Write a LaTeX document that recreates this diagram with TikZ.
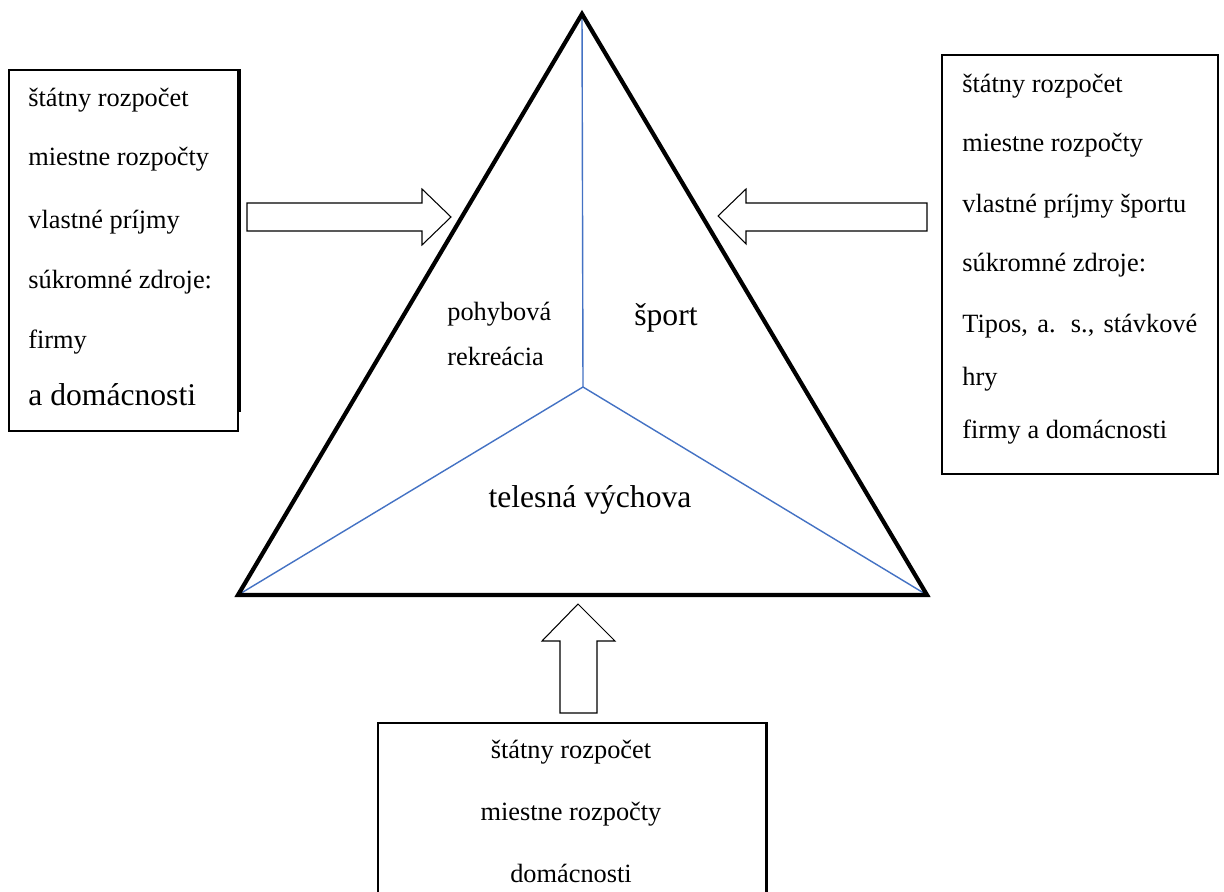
\documentclass[tikz,border=0pt]{standalone}
\usepackage{fontspec}
\setmainfont{Liberation Serif}
\usepackage{tikz}
\usepackage{xcolor}
\usetikzlibrary{positioning}
\usetikzlibrary{calc}

\definecolor{wordblue}{RGB}{68,114,196}

\begin{document}
\begin{tikzpicture}[x=0.02cm, y=-0.02cm,
  txt/.style={font=\fontsize{15}{18}\selectfont, inner sep=0pt},
  bigtxt/.style={font=\fontsize{18}{22}\selectfont, inner sep=0pt},
  thinframe/.style={draw=black, line width=0.6pt},
  thickframe/.style={draw=black, line width=1.2pt},
  blockarrow/.style={draw=black, line width=0.6pt, fill=white, line join=miter},
  splitline/.style={draw=wordblue, line width=0.8pt}]
\clip (0,0) rectangle (1224,892);
\fill[white] (0,0) rectangle (1224,892);

% triangle
\coordinate (apex) at (582,14);
\coordinate (bl) at (238,595);
\coordinate (br) at (927,595);
\coordinate (mid) at (583,387);
\draw [splitline] (mid) -- (apex);
\draw [splitline] (mid) -- (bl);
\draw [splitline] (mid) -- (br);
\draw [line width=2.4pt, line join=miter] (apex) -- (bl) -- (br) -- cycle;

\node [txt, anchor=base west] (pr1) at (447,320) {pohybová};
\node [txt, anchor=base west] (pr2) at (447,365) {rekreácia};
\node [bigtxt, anchor=base] (sp) at (666,325) {šport};
\node [bigtxt, anchor=base] (tv) at (590,507) {telesná výchova};

% left box
\draw [thinframe] (9,70) rectangle (238,431);
\draw [thickframe] (9,70) -- (240,70) -- (240,412);
\node [txt, anchor=base west] (lb1) at (28,107) {štátny rozpočet};
\node [txt, anchor=base west] (lb2) at (28,166) {miestne rozpočty};
\node [txt, anchor=base west] (lb3) at (28,228) {vlastné príjmy};
\node [txt, anchor=base west] (lb4) at (28,288) {súkromné zdroje:};
\node [txt, anchor=base west] (lb5) at (28,348) {firmy};
\node [bigtxt, anchor=base west] (lb6) at (28,405) {a domácnosti};

% right box
\draw [thinframe] (942,55) rectangle (1218,474);
\draw [thickframe] (942,390) -- (942,55) -- (1218,55);
\node [txt, anchor=base west] (rb1) at (962,92) {štátny rozpočet};
\node [txt, anchor=base west] (rb2) at (962,152) {miestne rozpočty};
\node [txt, anchor=base west] (rb3) at (962,213) {vlastné príjmy športu};
\node [txt, anchor=base west] (rb4) at (962,271) {súkromné zdroje:};
\node [txt, anchor=base west] (rb5) at (962,332) {\makebox[4.7cm][s]{Tipos, a. s., stávkové}};
\node [txt, anchor=base west] (rb6) at (962,385) {hry};
\node [txt, anchor=base west] (rb7) at (962,438) {firmy a domácnosti};

% bottom box
\draw [line width=1.7pt] (378,723) rectangle (766,910);
\node [txt, anchor=base] (bb1) at (571,758) {štátny rozpočet};
\node [txt, anchor=base] (bb2) at (571,820) {miestne rozpočty};
\node [txt, anchor=base] (bb3) at (571,882) {domácnosti};

% arrows
\draw [blockarrow] (247,203) -- (422,203) -- (422,189) -- (451,217) -- (422,245) -- (422,231) -- (247,231) -- cycle;
\draw [blockarrow] (927,203) -- (746,203) -- (746,189) -- (718,216) -- (746,244) -- (746,231) -- (927,231) -- cycle;
\draw [blockarrow] (560,713) -- (560,641) -- (542,641) -- (578,604) -- (615,641) -- (597,641) -- (597,713) -- cycle;

\end{tikzpicture}
\end{document}
